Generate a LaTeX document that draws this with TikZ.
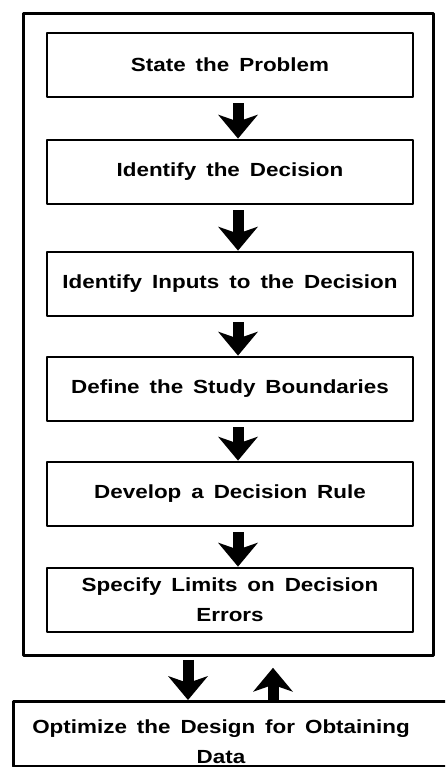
\documentclass[tikz,border=0pt]{standalone}
\usepackage{fontspec}
\setmainfont{Liberation Sans}[FakeStretch=1.18, WordSpace=1.6]
\usetikzlibrary{arrows.meta}
\begin{document}
\begin{tikzpicture}[x=1pt, y=-1pt, font=\bfseries\fontsize{19}{30}\selectfont, line join=round,
		stepbox/.style={draw, line width=2.8pt, minimum width=366pt, minimum height=64pt, align=center, inner sep=0pt},
		blockarrow/.style={line width=11pt, line cap=butt, -{Stealth[length=24pt, width=40pt, inset=7pt, line width=0pt]}}]
	\clip (0,0) rectangle (445,767);
	\coordinate (col) at (238,0);
	\coordinate (dn) at (188,0);
	\coordinate (up) at (273,0);
	\node[draw, line width=2.8pt, minimum width=410pt, minimum height=642pt, anchor=north west] (frame) at (22,12) {};
	\foreach \nom/\ypos/\txt in {b1/65/State the Problem, b2/172/Identify the Decision, b3/284/Identify Inputs to the Decision, b4/389/Define the Study Boundaries, b5/494/Develop a Decision Rule, b6/600/{Specify Limits on Decision\\Errors}}
		\node[stepbox] (\nom) at (230,\ypos) {\txt};
	\foreach \a/\b in {b1/b2, b2/b3, b3/b4, b4/b5, b5/b6}
		\draw[blockarrow, shorten <=5pt] (\a.south -| col) -- (\b.north -| col);
	% bottom box, cut by the page edge
	\node[draw, line width=2.8pt, minimum width=470pt, minimum height=65pt, anchor=north west] (opt) at (12,700) {};
	\node[align=center] (optlbl) at (221,742) {Optimize the Design for Obtaining\\Data};
	\draw[blockarrow, shorten <=3pt] (frame.south -| dn) -- (opt.north -| dn);
	\draw[blockarrow, shorten >=11pt] (opt.north -| up) -- (frame.south -| up);
\end{tikzpicture}
\end{document}
